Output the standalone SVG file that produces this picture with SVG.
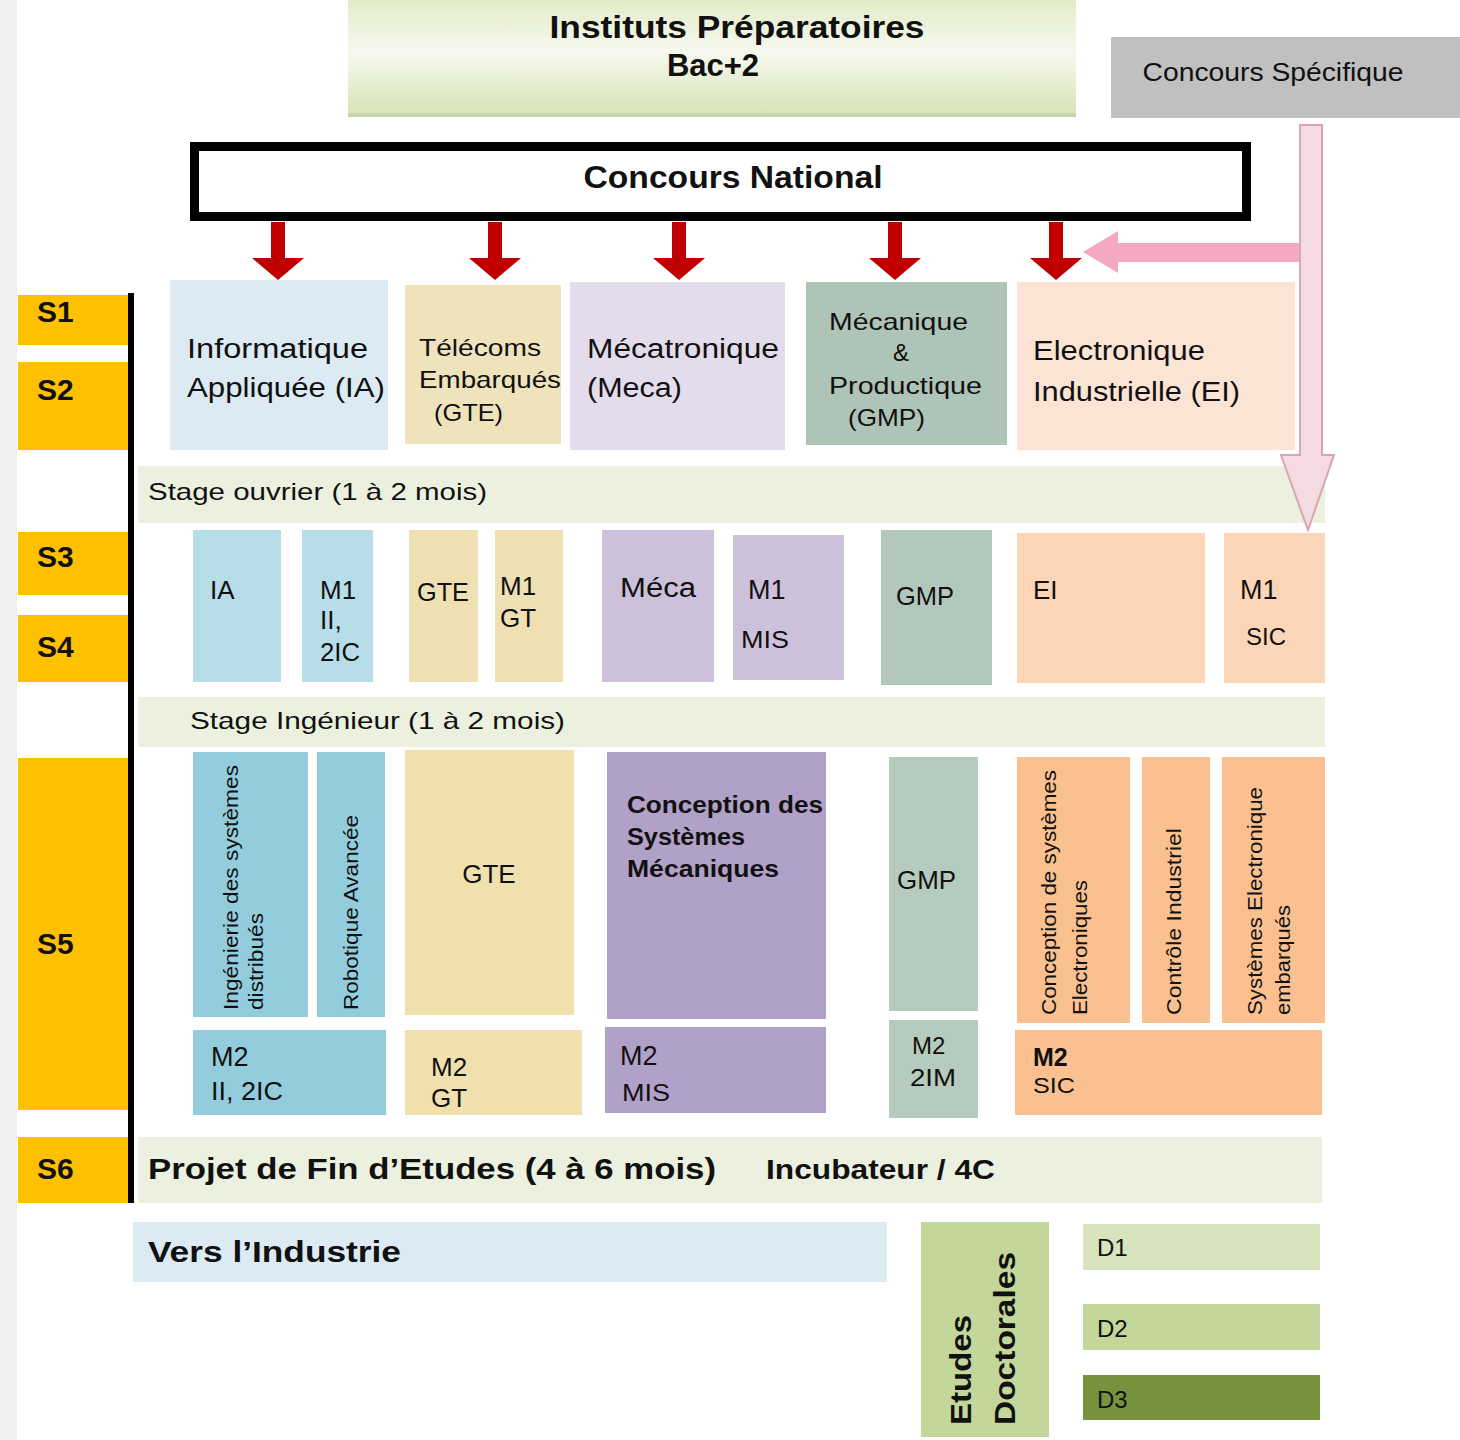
<svg xmlns="http://www.w3.org/2000/svg" width="1460" height="1440" viewBox="0 0 1460 1440">
<style>
text{font-family:"Liberation Sans",Arial,sans-serif;fill:#111}
.b{font-weight:bold}
.sem{font-size:30px;font-weight:bold}
.t27{font-size:27px}
.t24{font-size:24px}
.t26{font-size:26px}
.v{font-size:20px}
.band{fill:#ebf1de}
.red{fill:#c00000}
</style>
<defs>
<linearGradient id="gInst" x1="0" y1="0" x2="0" y2="1">
<stop offset="0" stop-color="#e3ecc9"/>
<stop offset="0.45" stop-color="#f6f9ee"/>
<stop offset="1" stop-color="#d6e2b2"/>
</linearGradient>
<path id="redArrow" d="M-7,0 H7 V36 H26 L0,58 L-26,36 H-7 Z"/>
</defs>
<rect width="1460" height="1440" fill="#ffffff"/>
<rect x="0" y="0" width="17" height="1440" fill="#efefef"/>

<g id="instituts">
<rect x="348" y="0" width="728" height="117" fill="url(#gInst)"/>
<rect x="348" y="113" width="728" height="4" fill="#c9d3b0"/>
<text class="b" x="737" y="38" font-size="31" text-anchor="middle" textLength="375" lengthAdjust="spacingAndGlyphs">Instituts Préparatoires</text>
<text class="b" x="713" y="76" font-size="31" text-anchor="middle">Bac+2</text>
</g>

<g id="concours-specifique">
<rect x="1111" y="37" width="349" height="81" fill="#c0c0c0"/>
<text x="1273" y="81" font-size="25" text-anchor="middle" textLength="261" lengthAdjust="spacingAndGlyphs">Concours Spécifique</text>
</g>

<g id="concours-national">
<rect x="194.5" y="146.5" width="1052" height="70" fill="#ffffff" stroke="#000" stroke-width="9"/>
<text class="b" x="733" y="188" font-size="31" text-anchor="middle" textLength="299" lengthAdjust="spacingAndGlyphs">Concours National</text>
</g>

<g id="semesters">
<rect x="18" y="295" width="110" height="50" fill="#ffc000"/>
<text class="sem" x="37" y="322">S1</text>
<rect x="18" y="362" width="110" height="88" fill="#ffc000"/>
<text class="sem" x="37" y="400">S2</text>
<rect x="18" y="532" width="110" height="63" fill="#ffc000"/>
<text class="sem" x="37" y="567">S3</text>
<rect x="18" y="615" width="110" height="67" fill="#ffc000"/>
<text class="sem" x="37" y="657">S4</text>
<rect x="18" y="758" width="110" height="352" fill="#ffc000"/>
<text class="sem" x="37" y="954">S5</text>
<rect x="18" y="1137" width="110" height="66" fill="#ffc000"/>
<text class="sem" x="37" y="1179">S6</text>
<rect x="128" y="293" width="6" height="910" fill="#000"/>
</g>

<g id="ia">
<rect x="170" y="280" width="218" height="170" fill="#dbeaf3"/>
<text class="t27" x="187" y="358" textLength="181" lengthAdjust="spacingAndGlyphs">Informatique</text>
<text class="t27" x="187" y="397" textLength="198" lengthAdjust="spacingAndGlyphs">Appliquée (IA)</text>
</g>
<g id="gte">
<rect x="405" y="285" width="156" height="159" fill="#efe3bb"/>
<text class="t24" x="419" y="356" textLength="122" lengthAdjust="spacingAndGlyphs">Télécoms</text>
<text class="t24" x="419" y="388" textLength="142" lengthAdjust="spacingAndGlyphs">Embarqués</text>
<text class="t24" x="434" y="421" textLength="69" lengthAdjust="spacingAndGlyphs">(GTE)</text>
</g>
<g id="meca">
<rect x="570" y="282" width="215" height="168" fill="#e4dcec"/>
<text class="t27" x="587" y="358" textLength="192" lengthAdjust="spacingAndGlyphs">Mécatronique</text>
<text class="t27" x="587" y="397" textLength="95" lengthAdjust="spacingAndGlyphs">(Meca)</text>
</g>
<g id="gmp">
<rect x="806" y="282" width="201" height="163" fill="#aec4b6"/>
<text class="t24" x="829" y="330" textLength="139" lengthAdjust="spacingAndGlyphs">Mécanique</text>
<text class="t24" x="901" y="361" text-anchor="middle">&amp;</text>
<text class="t24" x="829" y="394" textLength="153" lengthAdjust="spacingAndGlyphs">Productique</text>
<text class="t24" x="848" y="426" textLength="77" lengthAdjust="spacingAndGlyphs">(GMP)</text>
</g>
<g id="ei">
<rect x="1017" y="282" width="278" height="168" fill="#fce4d5"/>
<text class="t27" x="1033" y="360" textLength="172" lengthAdjust="spacingAndGlyphs">Electronique</text>
<text class="t27" x="1033" y="401" textLength="207" lengthAdjust="spacingAndGlyphs">Industrielle (EI)</text>
</g>

<g id="stage-ouvrier">
<rect class="band" x="138" y="466" width="1187" height="57"/>
<text class="t24" x="148" y="500" textLength="339" lengthAdjust="spacingAndGlyphs">Stage ouvrier (1 à 2 mois)</text>
</g>

<g id="s34-ia"><rect x="193" y="530" width="88" height="152" fill="#b7dde8"/><text class="t26" x="210" y="599">IA</text></g>
<g id="s34-m1-ii"><rect x="302" y="530" width="71" height="152" fill="#b7dde8"/>
<text class="t26" x="320" y="599">M1</text><text class="t26" x="320" y="629">II,</text><text class="t26" x="320" y="661" textLength="40" lengthAdjust="spacingAndGlyphs">2IC</text></g>
<g id="s34-gte"><rect x="409" y="530" width="69" height="152" fill="#efe0b4"/><text class="t26" x="417" y="601" textLength="52" lengthAdjust="spacingAndGlyphs">GTE</text></g>
<g id="s34-m1-gt"><rect x="495" y="530" width="68" height="152" fill="#efe0b4"/>
<text class="t26" x="500" y="595">M1</text><text class="t26" x="500" y="627">GT</text></g>
<g id="s34-meca"><rect x="602" y="530" width="112" height="152" fill="#ccc0da"/><text class="t27" x="620" y="597" textLength="76" lengthAdjust="spacingAndGlyphs">Méca</text></g>
<g id="s34-m1-mis"><rect x="733" y="535" width="111" height="145" fill="#ccc0da"/>
<text class="t27" x="748" y="599">M1</text><text class="t24" x="741" y="648" textLength="48" lengthAdjust="spacingAndGlyphs">MIS</text></g>
<g id="s34-gmp"><rect x="881" y="530" width="111" height="155" fill="#b3c8bc"/><text class="t26" x="896" y="605" textLength="58" lengthAdjust="spacingAndGlyphs">GMP</text></g>
<g id="s34-ei"><rect x="1017" y="533" width="188" height="150" fill="#fbd5b6"/><text class="t26" x="1033" y="599">EI</text></g>
<g id="s34-m1-sic"><rect x="1224" y="533" width="101" height="150" fill="#fbd5b6"/>
<text class="t27" x="1240" y="599">M1</text><text class="t24" x="1246" y="645" textLength="40" lengthAdjust="spacingAndGlyphs">SIC</text></g>

<g id="stage-ingenieur">
<rect class="band" x="138" y="697" width="1187" height="50"/>
<text class="t24" x="190" y="729" textLength="375" lengthAdjust="spacingAndGlyphs">Stage Ingénieur (1 à 2 mois)</text>
</g>

<g id="s5-isd"><rect x="193" y="752" width="115" height="265" fill="#93cddd"/>
<text class="v" transform="translate(238,1010) rotate(-90)" textLength="245" lengthAdjust="spacingAndGlyphs" fill="#333">Ingénierie des systèmes</text>
<text class="v" transform="translate(263,1010) rotate(-90)" textLength="97" lengthAdjust="spacingAndGlyphs">distribués</text></g>
<g id="s5-robotique"><rect x="317" y="752" width="68" height="265" fill="#93cddd"/>
<text class="v" transform="translate(358,1010) rotate(-90)" textLength="195" lengthAdjust="spacingAndGlyphs">Robotique Avancée</text></g>
<g id="s5-gte"><rect x="405" y="750" width="169" height="265" fill="#efe0ae"/>
<text class="t26" x="489" y="883" text-anchor="middle">GTE</text></g>
<g id="s5-csm"><rect x="607" y="752" width="219" height="267" fill="#b1a0c7"/>
<text class="t24 b" x="627" y="813" textLength="196" lengthAdjust="spacingAndGlyphs">Conception des</text>
<text class="t24 b" x="627" y="845" textLength="118" lengthAdjust="spacingAndGlyphs">Systèmes</text>
<text class="t24 b" x="627" y="877" textLength="152" lengthAdjust="spacingAndGlyphs">Mécaniques</text></g>
<g id="s5-gmp"><rect x="889" y="757" width="89" height="254" fill="#b5cbbd"/>
<text class="t26" x="897" y="889" textLength="59" lengthAdjust="spacingAndGlyphs">GMP</text></g>
<g id="s5-cse"><rect x="1017" y="757" width="113" height="266" fill="#fac090"/>
<text class="v" transform="translate(1056,1015) rotate(-90)" textLength="245" lengthAdjust="spacingAndGlyphs">Conception de systèmes</text>
<text class="v" transform="translate(1087,1015) rotate(-90)" textLength="135" lengthAdjust="spacingAndGlyphs">Electroniques</text></g>
<g id="s5-ci"><rect x="1142" y="757" width="68" height="266" fill="#fac090"/>
<text class="v" transform="translate(1181,1015) rotate(-90)" textLength="187" lengthAdjust="spacingAndGlyphs">Contrôle Industriel</text></g>
<g id="s5-see"><rect x="1222" y="757" width="103" height="266" fill="#fac090"/>
<text class="v" transform="translate(1262,1015) rotate(-90)" textLength="228" lengthAdjust="spacingAndGlyphs">Systèmes Electronique</text>
<text class="v" transform="translate(1290,1015) rotate(-90)" textLength="110" lengthAdjust="spacingAndGlyphs">embarqués</text></g>

<g id="m2-ii"><rect x="193" y="1030" width="193" height="85" fill="#93cddd"/>
<text class="t27" x="211" y="1066">M2</text><text class="t26" x="211" y="1100" textLength="72" lengthAdjust="spacingAndGlyphs">II, 2IC</text></g>
<g id="m2-gt"><rect x="405" y="1030" width="177" height="85" fill="#efe0ae"/>
<text class="t26" x="431" y="1076">M2</text><text class="t26" x="431" y="1107">GT</text></g>
<g id="m2-mis"><rect x="605" y="1027" width="221" height="86" fill="#b1a0c7"/>
<text class="t27" x="620" y="1065">M2</text><text class="t24" x="622" y="1101" textLength="48" lengthAdjust="spacingAndGlyphs">MIS</text></g>
<g id="m2-2im"><rect x="889" y="1020" width="89" height="98" fill="#b5cbbd"/>
<text class="t24" x="912" y="1054">M2</text><text class="t24" x="910" y="1086" textLength="46" lengthAdjust="spacingAndGlyphs">2IM</text></g>
<g id="m2-sic"><rect x="1015" y="1030" width="307" height="85" fill="#fac090"/>
<text class="b" font-size="25" x="1033" y="1066">M2</text><text font-size="22" x="1033" y="1093" textLength="42" lengthAdjust="spacingAndGlyphs">SIC</text></g>

<g id="pfe">
<rect class="band" x="138" y="1137" width="1184" height="66"/>
<text class="b" x="148" y="1179" font-size="29" textLength="568" lengthAdjust="spacingAndGlyphs">Projet de Fin d’Etudes (4 à 6 mois)</text>
<text class="b" x="766" y="1179" font-size="27" textLength="229" lengthAdjust="spacingAndGlyphs">Incubateur / 4C</text>
</g>

<g id="industrie">
<rect x="133" y="1222" width="754" height="60" fill="#dbeaf3"/>
<text class="b" x="148" y="1262" font-size="29" textLength="253" lengthAdjust="spacingAndGlyphs">Vers l’Industrie</text>
</g>

<g id="etudes-doctorales">
<rect x="921" y="1222" width="128" height="215" fill="#c4d79b"/>
<text class="b" font-size="29" transform="translate(971,1425) rotate(-90)" textLength="110" lengthAdjust="spacingAndGlyphs">Etudes</text>
<text class="b" font-size="29" transform="translate(1015,1425) rotate(-90)" textLength="173" lengthAdjust="spacingAndGlyphs">Doctorales</text>
</g>
<g id="d1"><rect x="1083" y="1224" width="237" height="46" fill="#d8e4bc"/><text class="t24" x="1097" y="1256" fill="#333">D1</text></g>
<g id="d2"><rect x="1083" y="1304" width="237" height="46" fill="#c4d79b"/><text class="t24" x="1097" y="1337" fill="#333">D2</text></g>
<g id="d3"><rect x="1083" y="1375" width="237" height="45" fill="#76923c"/><text class="t24" x="1097" y="1408" fill="#333">D3</text></g>

<g id="connectors">
<use href="#redArrow" x="278" y="222" class="red"/>
<use href="#redArrow" x="495" y="222" class="red"/>
<use href="#redArrow" x="679" y="222" class="red"/>
<use href="#redArrow" x="895" y="222" class="red"/>
<use href="#redArrow" x="1056" y="222" class="red"/>
<path d="M1300,243 H1118 V231 L1083,252 L1118,273 V262 H1300 Z" fill="#f5a8c3"/>
<path d="M1300,125 H1322 V455 H1334 L1308,530 L1281,455 H1300 Z" fill="#f3dbe1" stroke="#d9a5b5" stroke-width="2"/>
</g>
</svg>
